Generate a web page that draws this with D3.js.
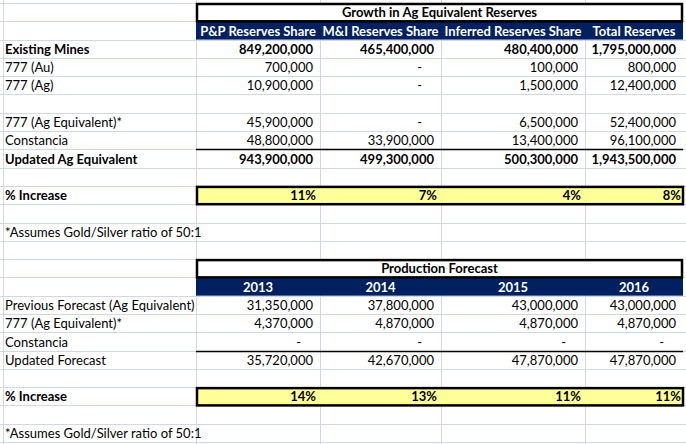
<!DOCTYPE html>
<html>
<head>
<meta charset="utf-8">
<script src="https://cdn.jsdelivr.net/npm/d3@7"></script>
<style>
  body { margin: 0; background: #fff; }
  svg text { font-family: Lato, "Noto Sans", sans-serif; font-size: 13px; }
</style>
</head>
<body>
<svg id="sheet" width="686" height="444"></svg>
<script>
// top table
var reserveTitle = "Growth in Ag Equivalent Reserves";
var reserveCols = ["P&P Reserves Share", "M&I Reserves Share", "Inferred Reserves Share", "Total Reserves"];
var reserveLabels = ["Existing Mines", "777 (Au)", "777 (Ag)", "", "777 (Ag Equivalent)*", "Constancia", "Updated Ag Equivalent"];
var reserveValues = [
  [849200000, 465400000, 480400000, 1795000000],
  [700000, null, 100000, 800000],
  [10900000, null, 1500000, 12400000],
  [],
  [45900000, null, 6500000, 52400000],
  [48800000, 33900000, 13400000, 96100000],
  [943900000, 499300000, 500300000, 1943500000]
];
var reserveBold = [true, false, false, false, false, false, true];
var reserveIncrease = [11, 7, 4, 8];

// bottom table
var forecastTitle = "Production Forecast";
var forecastYears = ["2013", "2014", "2015", "2016"];
var forecastLabels = ["Previous Forecast (Ag Equivalent)", "777 (Ag Equivalent)*", "Constancia", "Updated Forecast"];
var forecastValues = [
  [31350000, 37800000, 43000000, 43000000],
  [4370000, 4870000, 4870000, 4870000],
  [null, null, null, null],
  [35720000, 42670000, 47870000, 47870000]
];
var forecastIncrease = [14, 13, 11, 11];

var footnote = "*Assumes Gold/Silver ratio of 50:1";
var pctLabel = "% Increase";

var svg = d3.select("#sheet");
var W = 686, H = 444;
var navy = "#002060", yellow = "#ffff99", grid = "#d0d7e5";

// rows and column edges
var y = d3.scaleLinear().domain([0, 24]).range([3, 442]);
var colEdge = d3.scaleOrdinal().domain([0, 1, 2, 3, 4, 5]).range([3, 196, 320, 441, 585, 683]);
var fmt = d3.format(",");

// gridlines
svg.append("g").selectAll("line").data(d3.range(0, 25)).enter().append("line")
  .attr("x1", 0).attr("x2", W)
  .attr("y1", function (d) { return Math.round(y(d)) + 0.5; })
  .attr("y2", function (d) { return Math.round(y(d)) + 0.5; })
  .attr("stroke", grid);
svg.append("g").selectAll("line").data([0, 1, 2, 3, 4]).enter().append("line")
  .attr("x1", function (d) { return colEdge(d) + 0.5; })
  .attr("x2", function (d) { return colEdge(d) + 0.5; })
  .attr("y1", 0).attr("y2", H)
  .attr("stroke", grid);

function cellText(row, col, txt, opts) {
  opts = opts || {};
  var x0 = colEdge(col), x1 = colEdge(col + 1);
  var t = svg.append("text")
    .attr("y", y(row + 1) - 4)
    .attr("fill", opts.fill || "#000")
    .attr("font-weight", opts.bold ? "bold" : null)
    .text(txt);
  if (opts.align == "center") t.attr("x", (x0 + x1) / 2).attr("text-anchor", "middle");
  else if (opts.align == "right") t.attr("x", x1 - (opts.pad == null ? 7 : opts.pad)).attr("text-anchor", "end");
  else t.attr("x", x0 + 2);
  return t;
}

function numCell(row, col, v, bold) {
  if (v === undefined) return;
  if (v === null) cellText(row, col, "-", { align: "right", pad: 19, bold: bold });
  else cellText(row, col, fmt(v), { align: "right", bold: bold });
}

function drawTable(r0, title, heads, labels, values, bold, lineRow, pcts) {
  var xL = colEdge(1), xR = colEdge(5);
  // white cells cover gridlines
  svg.append("rect").attr("x", xL).attr("y", y(r0)).attr("width", W - xL).attr("height", y(r0 + 1) - y(r0))
    .attr("fill", "#fff");
  svg.append("rect").attr("x", xL).attr("y", y(r0 + 1)).attr("width", xR - xL).attr("height", y(r0 + 2) - y(r0 + 1))
    .attr("fill", navy);
  svg.append("rect").attr("x", xL + 1).attr("y", y(r0) + 1).attr("width", xR - xL - 2).attr("height", y(r0 + 1) - y(r0) - 1)
    .attr("fill", "none").attr("stroke", "#000").attr("stroke-width", 2.5);
  svg.append("text").attr("x", (xL + xR) / 2).attr("y", y(r0 + 1) - 4)
    .attr("text-anchor", "middle").attr("font-weight", "bold").text(title);
  heads.forEach(function (h, i) {
    cellText(r0 + 1, i + 1, h, { align: "center", bold: true, fill: "#fff" });
  });
  labels.forEach(function (lab, i) {
    var r = r0 + 2 + i;
    if (lab) cellText(r, 0, lab, { bold: bold[i] });
    values[i].forEach(function (v, j) { numCell(r, j + 1, v, bold[i]); });
  });
  // total line
  svg.append("line").attr("x1", xL).attr("x2", xR)
    .attr("y1", Math.round(y(lineRow)) + 0.5).attr("y2", Math.round(y(lineRow)) + 0.5)
    .attr("stroke", "#000").attr("stroke-width", 1.3);
  // % increase row
  var pr = r0 + 2 + labels.length + 1;
  svg.append("rect").attr("x", xL + 1).attr("y", y(pr) + 1).attr("width", xR - xL - 1).attr("height", y(pr + 1) - y(pr) - 1)
    .attr("fill", yellow).attr("stroke", "#000").attr("stroke-width", 2.5);
  cellText(pr, 0, pctLabel, { bold: true });
  pcts.forEach(function (p, j) {
    cellText(pr, j + 1, p + "%", { align: "right", pad: j == 3 ? 2 : 4, bold: true });
  });
  // footnote
  cellText(pr + 2, 0, footnote);
}

drawTable(0, reserveTitle, reserveCols, reserveLabels, reserveValues, reserveBold, 8, reserveIncrease);
drawTable(14, forecastTitle, forecastYears, forecastLabels, forecastValues, [false, false, false, false], 19, forecastIncrease);
</script>
</body>
</html>
